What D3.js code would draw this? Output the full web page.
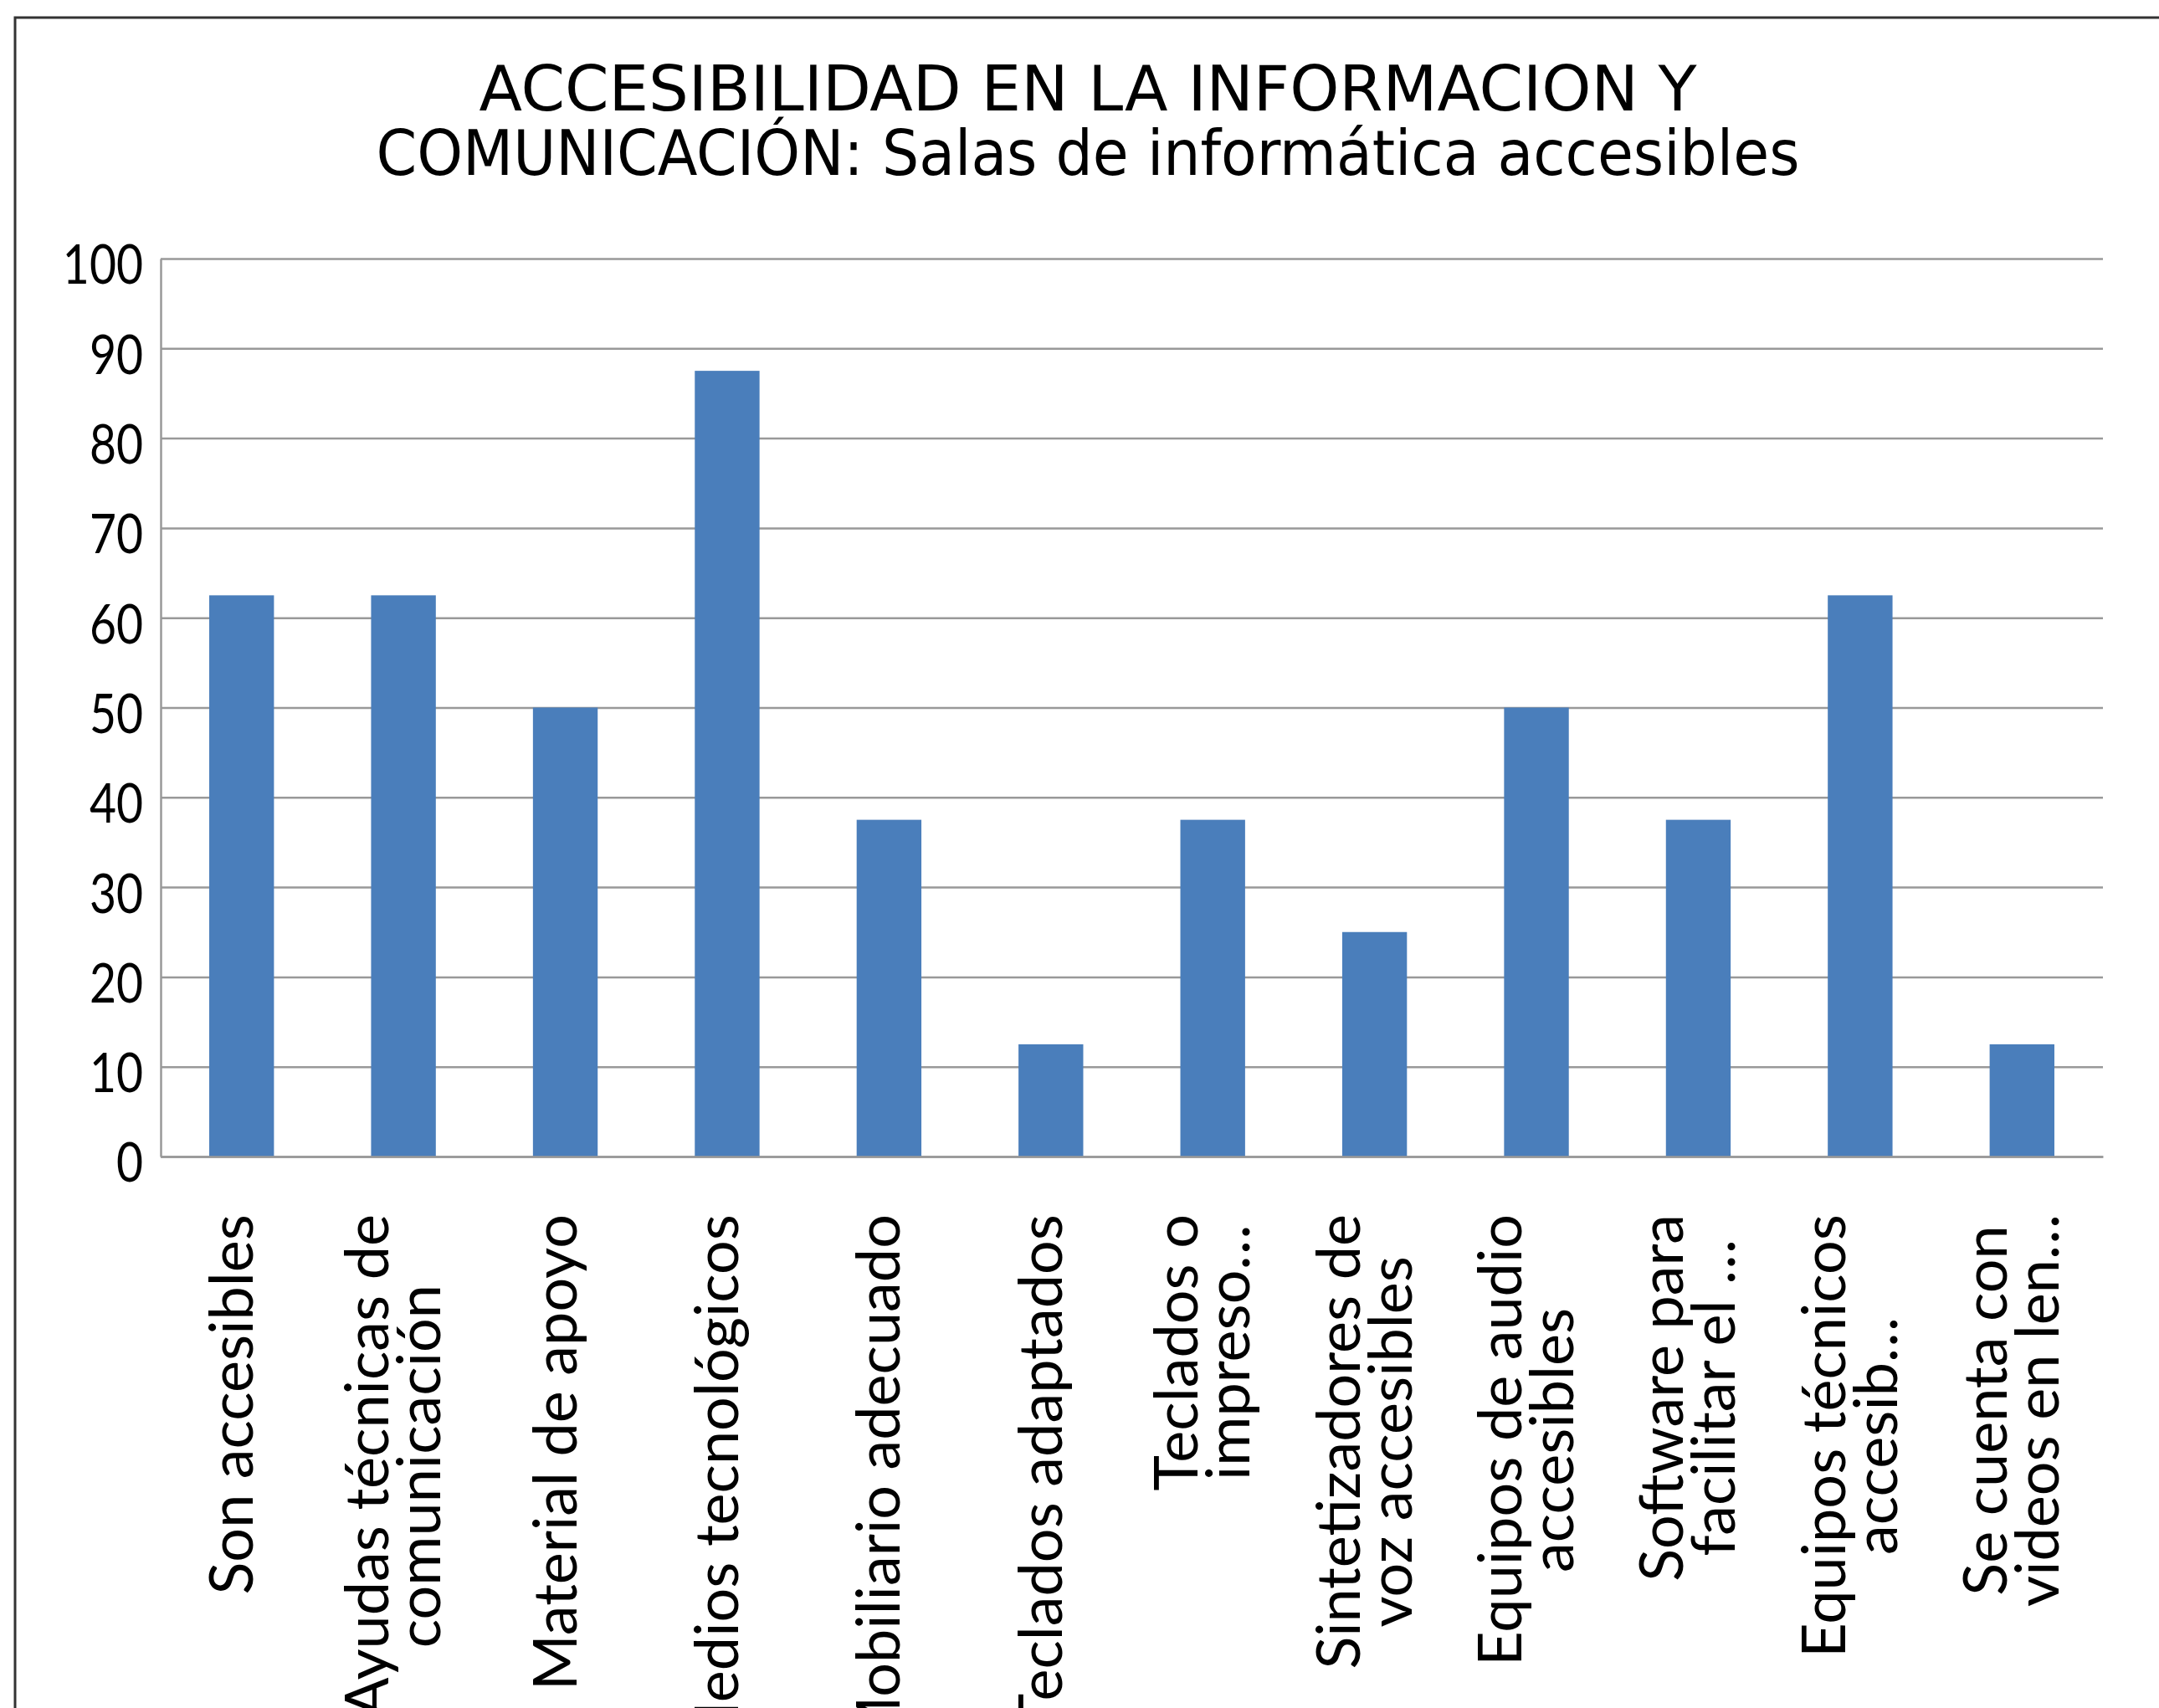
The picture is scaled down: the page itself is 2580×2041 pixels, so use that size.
<!DOCTYPE html>
<html>
<head>
<meta charset="utf-8">
<script src="https://cdn.jsdelivr.net/npm/d3@7/dist/d3.min.js"></script>
<style>
  body { margin: 0; background: #fff; }
  svg { display: block; }
</style>
</head>
<body>
<svg id="chart" width="2580" height="2041"></svg>
<script>
// data (percent of 8 answers, so steps of 12.5)
const titleLines = ["ACCESIBILIDAD EN LA INFORMACION Y", "COMUNICACIÓN: Salas de informática accesibles"];
const categories = [
  "Son accesibles", "Ayudas técnicas de comunicación", "Material de apoyo", "Medios tecnológicos",
  "Mobiliario adecuado", "Teclados adaptados", "Teclados o impreso…", "Sintetizadores de voz accesibles",
  "Equipos de audio accesibles", "Software para facilitar el …", "Equipos técnicos accesib…", "Se cuenta con videos en len…"
];
const labelLines = [
  ["Son accesibles"], ["Ayudas técnicas de", "comunicación"], ["Material de apoyo"], ["Medios tecnológicos"],
  ["Mobiliario adecuado"], ["Teclados adaptados"], ["Teclados o", "impreso…"], ["Sintetizadores de", "voz accesibles"],
  ["Equipos de audio", "accesibles"], ["Software para", "facilitar el …"], ["Equipos técnicos", "accesib…"], ["Se cuenta con", "videos en len…"]
];
const values = [62.5, 62.5, 50, 87.5, 37.5, 12.5, 37.5, 25, 50, 37.5, 62.5, 12.5];
const yTicks = [0, 10, 20, 30, 40, 50, 60, 70, 80, 90, 100];

const W = 2580, H = 2041;
const plot = { left: 192, right: 2513, top: 309, bottom: 1382 };
const barColor = "#4a7ebb";
const gridColor = "#999999";

const svg = d3.select("#chart");

// stretch or squeeze text to a given width (picture text is a bit distorted)
function fitWidth(sel, k) {
  sel.each(function () {
    const w = this.getComputedTextLength();
    d3.select(this).attr("textLength", w * k).attr("lengthAdjust", "spacingAndGlyphs");
  });
}

// outer frame, only left and top edges are inside the picture
svg.append("path")
  .attr("d", `M18,${H + 5} L18,21 L${W + 5},21`)
  .attr("fill", "none")
  .attr("stroke", "#333")
  .attr("stroke-width", 3);

// title
const titleWidths = [1455, 1701];
svg.append("g").selectAll("text")
  .data(titleLines)
  .enter().append("text")
  .attr("x", 1300)
  .attr("y", (d, i) => 132 + i * 77)
  .attr("text-anchor", "middle")
  .attr("font-family", "'DejaVu Sans Condensed', 'DejaVu Sans', sans-serif")
  .attr("font-size", 75)
  .attr("fill", "#000")
  .attr("textLength", (d, i) => titleWidths[i])
  .attr("lengthAdjust", "spacingAndGlyphs")
  .text(d => d);

const x = d3.scaleBand()
  .domain(categories)
  .range([plot.left, plot.right])
  .paddingInner(0.6)
  .paddingOuter(0.3);

const y = d3.scaleLinear()
  .domain([0, 100])
  .range([plot.bottom, plot.top]);

// gridlines
svg.append("g")
  .attr("transform", `translate(${plot.left},0)`)
  .call(d3.axisRight(y).tickValues(yTicks).tickSize(plot.right - plot.left).tickFormat(""))
  .call(g => g.select(".domain").remove())
  .call(g => g.selectAll("line").attr("stroke", gridColor).attr("stroke-width", 2.5));

// bars
svg.append("g").selectAll("rect")
  .data(values)
  .enter().append("rect")
  .attr("x", (d, i) => x(categories[i]))
  .attr("y", d => y(d))
  .attr("width", x.bandwidth())
  .attr("height", d => y(0) - y(d))
  .attr("fill", barColor);

// y axis
const yAxis = svg.append("g")
  .attr("transform", `translate(${plot.left},0)`)
  .call(d3.axisLeft(y).tickValues(yTicks).tickSize(0).tickPadding(21));
yAxis.select(".domain").attr("stroke", gridColor).attr("stroke-width", 2.5);
yAxis.selectAll("text")
  .attr("font-family", "Lato, sans-serif")
  .attr("font-size", 65)
  .attr("fill", "#000")
  .attr("dy", "0.46em");
fitWidth(yAxis.selectAll("text"), 0.85);

// x axis line
svg.append("g")
  .attr("transform", `translate(0,${plot.bottom})`)
  .call(d3.axisBottom(x).tickSize(0).tickFormat(""))
  .call(g => g.select(".domain").attr("stroke", gridColor).attr("stroke-width", 2.5));

// rotated category labels, wrapped lines centred on each other
const labelTop = 1451, lineGap = 62, labelSize = 72;
const lg = svg.append("g").selectAll("g")
  .data(labelLines)
  .enter().append("g")
  .attr("font-family", "Lato, sans-serif")
  .attr("font-size", labelSize)
  .attr("fill", "#000");

lg.each(function (lines, i) {
  const g = d3.select(this);
  const cx = x(categories[i]) + x.bandwidth() / 2;
  const t = g.selectAll("text").data(lines).enter().append("text")
    .attr("text-anchor", "middle")
    .text(d => d);
  let maxLen = 0;
  t.each(function () { maxLen = Math.max(maxLen, this.getComputedTextLength()); });
  const mid = labelTop + maxLen / 2;
  t.attr("transform", (d, j) => {
      const bx = cx + (j - (lines.length - 1) / 2) * lineGap + 0.18 * labelSize;
      return `translate(${bx},${mid}) rotate(-90)`;
    });
});
</script>
</body>
</html>
